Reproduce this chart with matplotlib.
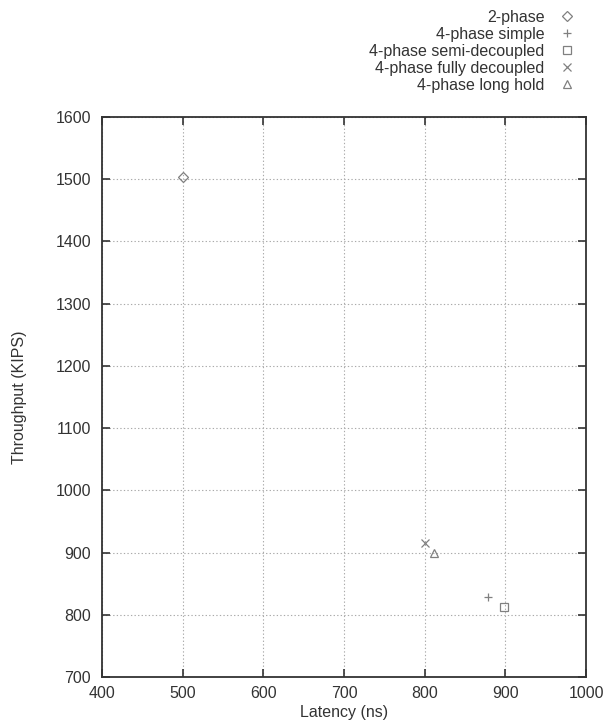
import matplotlib
matplotlib.use("Agg")
import matplotlib.pyplot as plt

plt.rcParams['font.family'] = ['Liberation Sans', 'DejaVu Sans']

# data
labels = ['2-phase', '4-phase simple', '4-phase semi-decoupled',
          '4-phase fully decoupled', '4-phase long hold']
latency = [500, 879, 898, 801, 812]
throughput = [1503, 829, 812, 916, 900]
markers = ['D', '+', 's', 'x', '^']
sizes = [5, 6, 5.5, 5.5, 5.5]

fig = plt.figure(figsize=(6.06, 7.22), dpi=100)
ax = fig.add_axes([0.1683, 0.0623, 0.7987, 0.7757])

for lat, thr, lab, m, s in zip(latency, throughput, labels, markers, sizes):
    ax.plot([lat], [thr], linestyle='none', marker=m, markersize=s,
            markerfacecolor='none', markeredgecolor='#808080',
            color='#808080', markeredgewidth=0.9, label=lab)

ax.set_xlim(400, 1000)
ax.set_ylim(700, 1600)
ax.set_xticks(range(400, 1001, 100))
ax.set_yticks(range(700, 1601, 100))
ax.grid(True, linestyle=(0, (1.2, 2)), color='#aaaaaa', linewidth=0.8)
ax.tick_params(direction='in', length=6, width=1.2, top=True, right=True,
               labelsize=11.5, colors='#333333')
ax.tick_params(axis='x', pad=6.5)
ax.tick_params(axis='y', pad=8)
for sp in ax.spines.values():
    sp.set_linewidth(1.3)
    sp.set_color('#333333')

ax.set_xlabel('Latency (ns)', fontsize=11.5, labelpad=3, color='#333333')
ax.set_ylabel('Throughput (KIPS)', fontsize=11.5, labelpad=20.5, color='#333333')

fig.legend(loc='upper right', bbox_to_anchor=(0.975, 1.006), frameon=False,
           markerfirst=False, fontsize=11.5, handlelength=1.2,
           handletextpad=0.8, labelspacing=0.12, labelcolor='#333333')
for t in fig.legends[0].get_texts():
    t.set_ha('right')

fig.savefig('out.png', dpi=100)
